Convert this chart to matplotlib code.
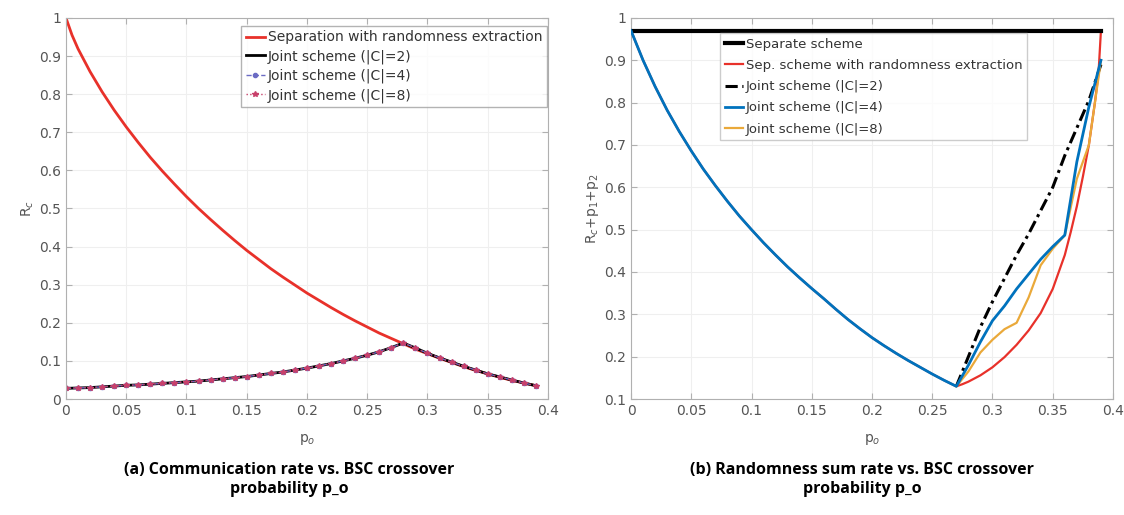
import matplotlib.pyplot as plt

# ---- data ----
# (a) communication rate
sep_x = [0, 0.005] + [i / 100 for i in range(1, 40)]
sep_y = [1.000, 0.955, 0.919, 0.859, 0.806, 0.758, 0.714, 0.673, 0.634, 0.598,
         0.564, 0.531, 0.500, 0.471, 0.443, 0.416, 0.390, 0.366, 0.342, 0.320,
         0.299, 0.278, 0.259, 0.240, 0.222, 0.205, 0.189, 0.173, 0.159, 0.145,
         0.131, 0.119, 0.107, 0.096, 0.085, 0.075, 0.066, 0.057, 0.049, 0.042,
         0.035]

joint_x = [i / 100 for i in range(40)]
joint_y = [0.028, 0.029, 0.030, 0.032, 0.034, 0.036, 0.037, 0.039, 0.041, 0.043,
           0.045, 0.047, 0.050, 0.053, 0.056, 0.059, 0.063, 0.067, 0.071, 0.076,
           0.081, 0.087, 0.093, 0.100, 0.107, 0.115, 0.124, 0.135, 0.147, 0.134,
           0.120, 0.108, 0.097, 0.086, 0.076, 0.066, 0.058, 0.050, 0.042, 0.035]

# (b) randomness sum rate
separate_x = [0, 0.39]
separate_y = [0.97, 0.97]

desc_x = [i / 100 for i in range(28)]
desc_y = [0.970, 0.900, 0.838, 0.782, 0.732, 0.686, 0.643, 0.604, 0.567, 0.532,
          0.500, 0.469, 0.440, 0.412, 0.386, 0.361, 0.337, 0.312, 0.288, 0.266,
          0.245, 0.226, 0.208, 0.191, 0.175, 0.159, 0.144, 0.130]

tail_x = [0.28, 0.29, 0.30, 0.31, 0.32, 0.33, 0.34, 0.35, 0.36, 0.37, 0.38, 0.39]
sepext_tail_x = [0.275, 0.28, 0.29, 0.30, 0.31, 0.32, 0.33, 0.34, 0.35, 0.36,
                 0.365, 0.37, 0.375, 0.38, 0.385, 0.388, 0.39]
sepext_tail_y = [0.135, 0.141, 0.156, 0.175, 0.199, 0.228, 0.262, 0.303, 0.36,
                 0.44, 0.495, 0.555, 0.625, 0.70, 0.80, 0.87, 0.97]
joint2_tail_y = [0.20, 0.27, 0.33, 0.385, 0.44, 0.49, 0.545, 0.60, 0.675,
                 0.74, 0.805, 0.89]
joint4_tail_y = [0.18, 0.235, 0.285, 0.32, 0.36, 0.395, 0.43, 0.46, 0.487,
                 0.66, 0.79, 0.90]
joint8_tail_y = [0.165, 0.21, 0.24, 0.265, 0.28, 0.34, 0.416, 0.455, 0.487,
                 0.62, 0.70, 0.90]

xticks = [0, 0.05, 0.1, 0.15, 0.2, 0.25, 0.3, 0.35, 0.4]
xtick_labels = ['0', '0.05', '0.1', '0.15', '0.2', '0.25', '0.3', '0.35', '0.4']
yticks_a = [i / 10 for i in range(11)]
ytick_labels_a = ['0'] + [f'0.{i}' for i in range(1, 10)] + ['1']
yticks_b = [i / 10 for i in range(1, 11)]
ytick_labels_b = [f'0.{i}' for i in range(1, 10)] + ['1']

plt.rcParams['font.family'] = ['DejaVu Sans']
GRAY = '#555555'


def style_axes(ax):
    for s in ax.spines.values():
        s.set_color('#b0b0b0')
        s.set_linewidth(0.8)
    ax.tick_params(direction='in', top=True, right=True, colors='#b0b0b0',
                   labelcolor=GRAY, labelsize=10, length=4)
    ax.grid(True, color='#efefef', linewidth=0.8)
    ax.set_axisbelow(True)
    ax.set_xlim(0, 0.4)
    ax.set_xticks(xticks)
    ax.set_xticklabels(xtick_labels)
    ax.set_xlabel('p$_o$', color=GRAY, fontsize=10, labelpad=10)


def style_legend(leg, edge):
    leg.get_frame().set_edgecolor(edge)
    for t in leg.get_texts():
        t.set_color('#333333')


fig = plt.figure(figsize=(11.24, 5.15), dpi=100)
ax1 = fig.add_axes([0.0587, 0.2252, 0.4288, 0.740])
ax2 = fig.add_axes([0.5614, 0.2252, 0.4288, 0.740])

# ---- (a) ----
style_axes(ax1)
ax1.plot(sep_x, sep_y, color='#e8312a', lw=2, label='Separation with randomness extraction')
ax1.plot(joint_x, joint_y, color='black', lw=2, label='Joint scheme (|C|=2)')
ax1.plot(joint_x, joint_y, color='#6b6bc4', lw=1, ls='--', marker='o', ms=3,
         label='Joint scheme (|C|=4)')
ax1.plot(joint_x, joint_y, color='#c8406a', lw=1, ls=':', marker='*', ms=4,
         label='Joint scheme (|C|=8)')
ax1.set_ylim(0, 1)
ax1.set_yticks(yticks_a)
ax1.set_yticklabels(ytick_labels_a)
ax1.set_ylabel('R$_c$', color=GRAY, fontsize=10, labelpad=2)
leg1 = ax1.legend(loc='upper right', bbox_to_anchor=(0.997, 0.978), fontsize=10,
                  frameon=True, fancybox=False, handlelength=1.4, handletextpad=0.2,
                  borderpad=0.3, labelspacing=0.35, borderaxespad=0)
style_legend(leg1, '#a0a0a0')

# ---- (b) ----
style_axes(ax2)
ax2.plot(separate_x, separate_y, color='black', lw=3, label='Separate scheme', zorder=3)
ax2.plot(desc_x + sepext_tail_x, desc_y + sepext_tail_y, color='#e8312a', lw=1.6,
         label='Sep. scheme with randomness extraction', zorder=2)
ax2.plot(desc_x[-1:] + tail_x, desc_y[-1:] + joint2_tail_y, color='black', lw=2.2,
         ls=(0, (4, 1.5, 1, 1.5)), label='Joint scheme (|C|=2)', zorder=2)
ax2.plot(desc_x + tail_x, desc_y + joint4_tail_y, color='#0072bd', lw=2,
         label='Joint scheme (|C|=4)', zorder=4)
ax2.plot(desc_x[-1:] + tail_x, desc_y[-1:] + joint8_tail_y, color='#eaa93a', lw=1.6,
         label='Joint scheme (|C|=8)', zorder=3)
ax2.set_ylim(0.1, 1)
ax2.set_yticks(yticks_b)
ax2.set_yticklabels(ytick_labels_b)
ax2.set_ylabel('R$_c$+p$_1$+p$_2$', color=GRAY, fontsize=10, labelpad=2)
leg2 = ax2.legend(loc='upper left', bbox_to_anchor=(0.185, 0.96), fontsize=9.5,
                  frameon=True, fancybox=False, handlelength=1.4, handletextpad=0.2,
                  borderpad=0.35, labelspacing=0.62, borderaxespad=0)
style_legend(leg2, '#c0c0c0')

# ---- captions ----
fig.text(0.257, 0.068, '(a) Communication rate vs. BSC crossover\nprobability p_o',
         ha='center', va='center', fontsize=11.5, fontweight='bold',
         family='Open Sans', linespacing=1.25)
fig.text(0.767, 0.068, '(b) Randomness sum rate vs. BSC crossover\nprobability p_o',
         ha='center', va='center', fontsize=11.5, fontweight='bold',
         family='Open Sans', linespacing=1.25)

plt.savefig('out.png', dpi=100)
